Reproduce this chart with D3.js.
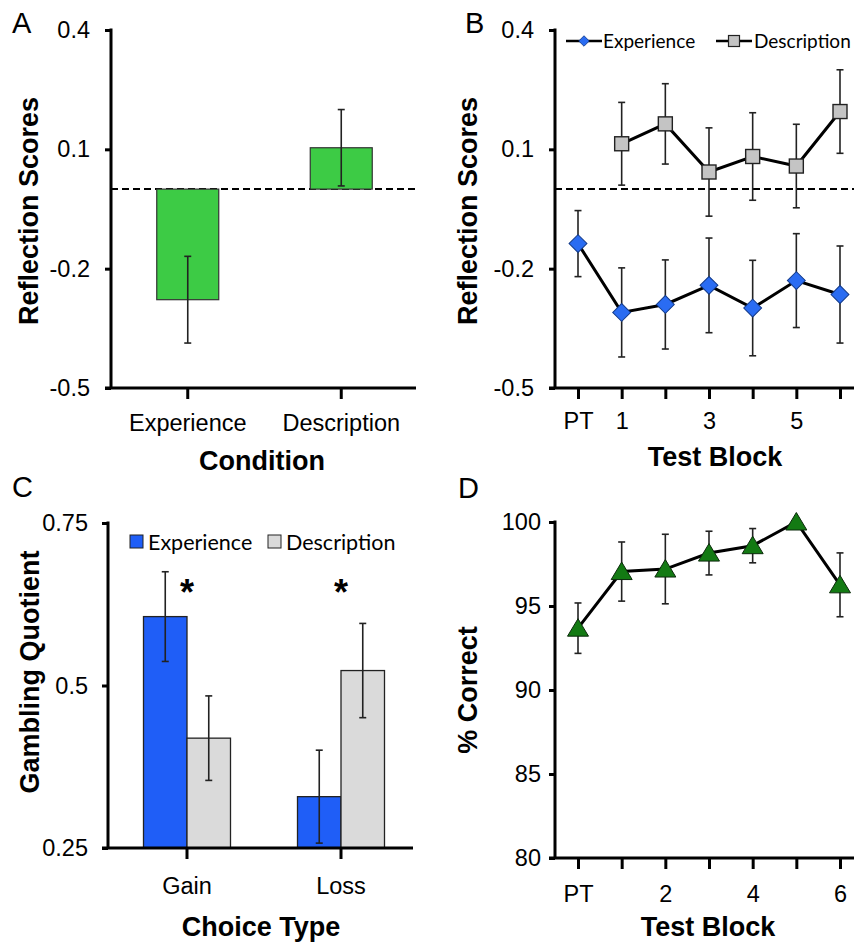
<!DOCTYPE html>
<html>
<head>
<meta charset="utf-8">
<script src="https://cdn.jsdelivr.net/npm/d3@7"></script>
<style>
  html, body { margin: 0; padding: 0; background: #fff; }
  svg { display: block; font-family: "Liberation Sans", Arial, sans-serif; }
</style>
</head>
<body>
<svg id="fig" width="854" height="942"></svg>
<script>
/* Four-panel figure: reflection scores (A, B), gambling quotient (C), % correct (D) */

// ---- data ----
var condA = ['Experience', 'Description'];
var meanA = [-0.278, 0.104];
var errA = [0.109, 0.096];

var blocks = ['PT', '1', '2', '3', '4', '5', '6'];
var tickLabB = ['PT', '1', '', '3', '', '5', ''];
var expB = [-0.137, -0.310, -0.290, -0.242, -0.299, -0.230, -0.265];
var expErrB = [0.083, 0.112, 0.112, 0.119, 0.120, 0.118, 0.122];
var descB = [null, 0.114, 0.164, 0.043, 0.082, 0.058, 0.195];
var descErrB = [null, 0.104, 0.101, 0.111, 0.110, 0.105, 0.105];

var reflTicks = [0.4, 0.1, -0.2, -0.5];
var reflLabels = ['0.4', '0.1', '-0.2', '-0.5'];

var choiceC = ['Gain', 'Loss'];
var groupsC = ['Experience', 'Description'];
var expC = [0.606, 0.329];
var expErrC = [0.069, 0.0715];
var descC = [0.419, 0.523];
var descErrC = [0.065, 0.0725];
var ticksC = [0.75, 0.5, 0.25];
var labelsC = ['0.75', '0.5', '0.25'];
var starsC = ['*', '*'];

var correctD = [93.68, 97.05, 97.2, 98.15, 98.59, 100, 96.26];
var errD = [1.5, 1.76, 2.07, 1.3, 1.02, 0, 1.9];
var tickLabD = ['PT', '', '2', '', '4', '', '6'];
var ticksD = [100, 95, 90, 85, 80];

// ---- colours ----
var cGreenBar = '#3dcb45';
var cBlue = '#1f5ef7';
var cBlueMk = '#2a6cf2';
var cGrayBar = '#dadada';
var cGrayMk = '#c4c4c4';
var cTri = '#137a13';

var svg = d3.select('#fig');

function styleAxis(g) {
  g.select('.domain').remove();
  g.selectAll('.tick line').attr('stroke', '#000').attr('stroke-width', 3);
  g.selectAll('.tick text').attr('fill', '#000').style('font-size', '23.5px')
    .style('font-family', '"Liberation Sans", Arial, sans-serif');
}

function axisLines(x0, x1, yTop, yBot, xAxisLeft) {
  svg.append('line').attr('x1', x0).attr('x2', x0).attr('y1', yTop - 1.5).attr('y2', yBot)
    .attr('stroke', '#000').attr('stroke-width', 3);
  svg.append('line').attr('x1', xAxisLeft).attr('x2', x1).attr('y1', yBot).attr('y2', yBot)
    .attr('stroke', '#000').attr('stroke-width', 3);
}

function errBar(g, x, y0, y1, cap) {
  g.append('line').attr('x1', x).attr('x2', x).attr('y1', y0).attr('y2', y1)
    .attr('stroke', '#222').attr('stroke-width', 1.6);
  [y0, y1].forEach(function (yy) {
    g.append('line').attr('x1', x - cap).attr('x2', x + cap).attr('y1', yy).attr('y2', yy)
      .attr('stroke', '#222').attr('stroke-width', 1.6);
  });
}

function yTitle(txt, cx, cy) {
  svg.append('text').attr('transform', 'translate(' + cx + ',' + cy + ') rotate(-90)')
    .attr('text-anchor', 'middle').attr('dy', '0.35em')
    .style('font-size', '27px').style('font-weight', 'bold').text(txt);
}
function xTitle(txt, cx, by) {
  svg.append('text').attr('x', cx).attr('y', by).attr('text-anchor', 'middle')
    .style('font-size', '27px').style('font-weight', 'bold').text(txt);
}
function panelLabel(txt, x, y) {
  svg.append('text').attr('x', x).attr('y', y).style('font-size', '29px').text(txt);
}

/* ===== Panel A ===== */
(function () {
  var ax = 111, top = 30, bot = 388;
  var y = d3.scaleLinear().domain([-0.5, 0.4]).range([bot, top]);
  var x = d3.scaleBand().domain(condA).range([111, 418]).padding(0);
  var bw = 62;

  // dashed zero line
  svg.append('line').attr('x1', ax).attr('x2', 418).attr('y1', y(0)).attr('y2', y(0))
    .attr('stroke', '#000').attr('stroke-width', 2).attr('stroke-dasharray', '7,4');

  var g = svg.append('g');
  condA.forEach(function (c, i) {
    var cx = x(c) + x.bandwidth() / 2;
    var v = meanA[i];
    g.append('rect').attr('x', cx - bw / 2).attr('width', bw)
      .attr('y', y(Math.max(0, v))).attr('height', Math.abs(y(v) - y(0)))
      .attr('fill', cGreenBar).attr('stroke', '#333').attr('stroke-width', 1.2);
    errBar(g, cx, y(v + errA[i]), y(v - errA[i]), 3.5);
  });

  axisLines(ax, 416, top, bot, ax - 6);
  svg.append('g').attr('transform', 'translate(' + ax + ',0)')
    .call(d3.axisLeft(y).tickValues(reflTicks)
      .tickFormat(function (d, i) { return reflLabels[i]; }).tickSize(6).tickPadding(15))
    .call(styleAxis);
  svg.append('g').attr('transform', 'translate(0,' + bot + ')')
    .call(d3.axisBottom(x).tickSize(11).tickPadding(15))
    .call(styleAxis);

  yTitle('Reflection Scores', 29, 211);
  xTitle('Condition', 262, 470);
  panelLabel('A', 12, 33);
})();

/* ===== Panel B ===== */
(function () {
  var ax = 555, top = 30, bot = 388;
  var y = d3.scaleLinear().domain([-0.5, 0.4]).range([bot, top]);
  var x = d3.scalePoint().domain(blocks).range([578, 840]);

  svg.append('line').attr('x1', ax).attr('x2', 854).attr('y1', y(0)).attr('y2', y(0))
    .attr('stroke', '#000').attr('stroke-width', 2).attr('stroke-dasharray', '7,4');

  var g = svg.append('g');
  // error bars
  blocks.forEach(function (b, i) {
    errBar(g, x(b), y(expB[i] + expErrB[i]), y(expB[i] - expErrB[i]), 3.5);
    if (descB[i] !== null) errBar(g, x(b), y(descB[i] + descErrB[i]), y(descB[i] - descErrB[i]), 3.5);
  });

  var line = d3.line().defined(function (d) { return d.v !== null; })
    .x(function (d) { return x(d.b); }).y(function (d) { return y(d.v); });
  var expPts = blocks.map(function (b, i) { return { b: b, v: expB[i] }; });
  var descPts = blocks.map(function (b, i) { return { b: b, v: descB[i] }; });

  g.append('path').datum(expPts).attr('d', line).attr('fill', 'none')
    .attr('stroke', '#000').attr('stroke-width', 3);
  g.append('path').datum(descPts).attr('d', line).attr('fill', 'none')
    .attr('stroke', '#000').attr('stroke-width', 3);

  var dia = d3.symbol().type(d3.symbolSquare).size(160);
  g.selectAll('.dia').data(expPts).enter().append('path')
    .attr('d', dia)
    .attr('transform', function (d) { return 'translate(' + x(d.b) + ',' + y(d.v) + ') rotate(45)'; })
    .attr('fill', cBlueMk).attr('stroke', '#123a8a').attr('stroke-width', 1);
  g.selectAll('.sq').data(descPts.filter(function (d) { return d.v !== null; })).enter().append('rect')
    .attr('x', function (d) { return x(d.b) - 7; }).attr('y', function (d) { return y(d.v) - 7; })
    .attr('width', 14).attr('height', 14)
    .attr('fill', cGrayMk).attr('stroke', '#222').attr('stroke-width', 1.4);

  axisLines(ax, 854, top, bot, ax - 6);
  svg.append('g').attr('transform', 'translate(' + ax + ',0)')
    .call(d3.axisLeft(y).tickValues(reflTicks)
      .tickFormat(function (d, i) { return reflLabels[i]; }).tickSize(6).tickPadding(15))
    .call(styleAxis);
  svg.append('g').attr('transform', 'translate(0,' + bot + ')')
    .call(d3.axisBottom(x).tickSize(11).tickPadding(13)
      .tickFormat(function (d, i) { return tickLabB[i]; }))
    .call(styleAxis);

  // legend
  var lg = svg.append('g').style('font-family', 'Lato, "Open Sans", sans-serif').style('font-size', '19px');
  lg.append('line').attr('x1', 566).attr('x2', 602).attr('y1', 41).attr('y2', 41)
    .attr('stroke', '#000').attr('stroke-width', 2.5);
  lg.append('path').attr('d', d3.symbol().type(d3.symbolSquare).size(55))
    .attr('transform', 'translate(584,41) rotate(45)')
    .attr('fill', cBlueMk).attr('stroke', '#123a8a').attr('stroke-width', 0.8);
  lg.append('text').attr('x', 603).attr('y', 41).attr('dy', '0.35em').text('Experience');
  lg.append('line').attr('x1', 716).attr('x2', 752).attr('y1', 41).attr('y2', 41)
    .attr('stroke', '#000').attr('stroke-width', 2.5);
  lg.append('rect').attr('x', 728.5).attr('y', 35.5).attr('width', 11).attr('height', 11)
    .attr('fill', cGrayMk).attr('stroke', '#222').attr('stroke-width', 1.2);
  lg.append('text').attr('x', 754).attr('y', 41).attr('dy', '0.35em').text('Description');

  yTitle('Reflection Scores', 468, 211);
  xTitle('Test Block', 715, 466);
  panelLabel('B', 465, 33);
})();

/* ===== Panel C ===== */
(function () {
  var ax = 108, top = 523, bot = 848;
  var y = d3.scaleLinear().domain([0.25, 0.75]).range([bot, top]);
  var x = d3.scaleBand().domain(choiceC).range([110, 418]).padding(0);
  var xi = d3.scaleBand().domain(groupsC).range([-43.5, 43.5]).padding(0);
  var vals = [expC, descC], errs = [expErrC, descErrC], fills = [cBlue, cGrayBar];

  var g = svg.append('g');
  choiceC.forEach(function (c, i) {
    var cx = x(c) + x.bandwidth() / 2;
    groupsC.forEach(function (gr, j) {
      var v = vals[j][i];
      g.append('rect').attr('x', cx + xi(gr)).attr('width', xi.bandwidth())
        .attr('y', y(v)).attr('height', y(0.25) - y(v))
        .attr('fill', fills[j]).attr('stroke', '#222').attr('stroke-width', 1.3);
    });
  });
  choiceC.forEach(function (c, i) {
    var cx = x(c) + x.bandwidth() / 2;
    groupsC.forEach(function (gr, j) {
      var v = vals[j][i], bx = cx + xi(gr) + xi.bandwidth() / 2;
      errBar(g, bx, y(v + errs[j][i]), y(v - errs[j][i]), 3.5);
    });
    g.append('text').attr('x', cx).attr('y', 605).attr('text-anchor', 'middle')
      .style('font-size', '36px').style('font-weight', 'bold').text(starsC[i]);
  });

  axisLines(ax, 413, top, bot, ax - 6);
  svg.append('g').attr('transform', 'translate(' + ax + ',0)')
    .call(d3.axisLeft(y).tickValues(ticksC).tickFormat(function (d, i) { return labelsC[i]; })
      .tickSize(6).tickPadding(14))
    .call(styleAxis);
  svg.append('g').attr('transform', 'translate(0,' + bot + ')')
    .call(d3.axisBottom(x).tickSize(11).tickPadding(18))
    .call(styleAxis);

  // legend
  var lg = svg.append('g').style('font-family', 'Lato, "Open Sans", sans-serif').style('font-size', '21.5px');
  lg.append('rect').attr('x', 130).attr('y', 535).attr('width', 13).attr('height', 13)
    .attr('fill', cBlue).attr('stroke', '#222').attr('stroke-width', 1);
  lg.append('text').attr('x', 148).attr('y', 542).attr('dy', '0.35em').text(groupsC[0]);
  lg.append('rect').attr('x', 268).attr('y', 535).attr('width', 13).attr('height', 13)
    .attr('fill', cGrayBar).attr('stroke', '#222').attr('stroke-width', 1);
  lg.append('text').attr('x', 286).attr('y', 542).attr('dy', '0.35em').text(groupsC[1]);

  yTitle('Gambling Quotient', 30, 672);
  xTitle('Choice Type', 261, 936);
  panelLabel('C', 12, 497);
})();

/* ===== Panel D ===== */
(function () {
  var ax = 555, top = 522, bot = 858;
  var y = d3.scaleLinear().domain([80, 100]).range([bot, top]);
  var x = d3.scalePoint().domain(blocks).range([578, 840]);
  var pts = blocks.map(function (b, i) { return { b: b, v: correctD[i], e: errD[i] }; });

  var g = svg.append('g');
  pts.forEach(function (d) {
    if (d.e > 0) errBar(g, x(d.b), y(d.v + d.e), y(d.v - d.e), 3.5);
  });
  g.append('path').datum(pts)
    .attr('d', d3.line().x(function (d) { return x(d.b); }).y(function (d) { return y(d.v); }))
    .attr('fill', 'none').attr('stroke', '#000').attr('stroke-width', 3);
  g.selectAll('.tri').data(pts).enter().append('path')
    .attr('d', 'M0,-9.5L10.5,8L-10.5,8Z')
    .attr('transform', function (d) { return 'translate(' + x(d.b) + ',' + y(d.v) + ')'; })
    .attr('fill', cTri).attr('stroke', '#0b2a0b').attr('stroke-width', 1);

  axisLines(ax, 854, top, bot, ax - 6);
  svg.append('g').attr('transform', 'translate(' + ax + ',0)')
    .call(d3.axisLeft(y).tickValues(ticksD).tickSize(6).tickPadding(8))
    .call(styleAxis);
  svg.append('g').attr('transform', 'translate(0,' + bot + ')')
    .call(d3.axisBottom(x).tickSize(11).tickPadding(16)
      .tickFormat(function (d, i) { return tickLabD[i]; }))
    .call(styleAxis);

  yTitle('% Correct', 468, 690);
  xTitle('Test Block', 708, 936);
  panelLabel('D', 458, 498);
})();
</script>
</body>
</html>
